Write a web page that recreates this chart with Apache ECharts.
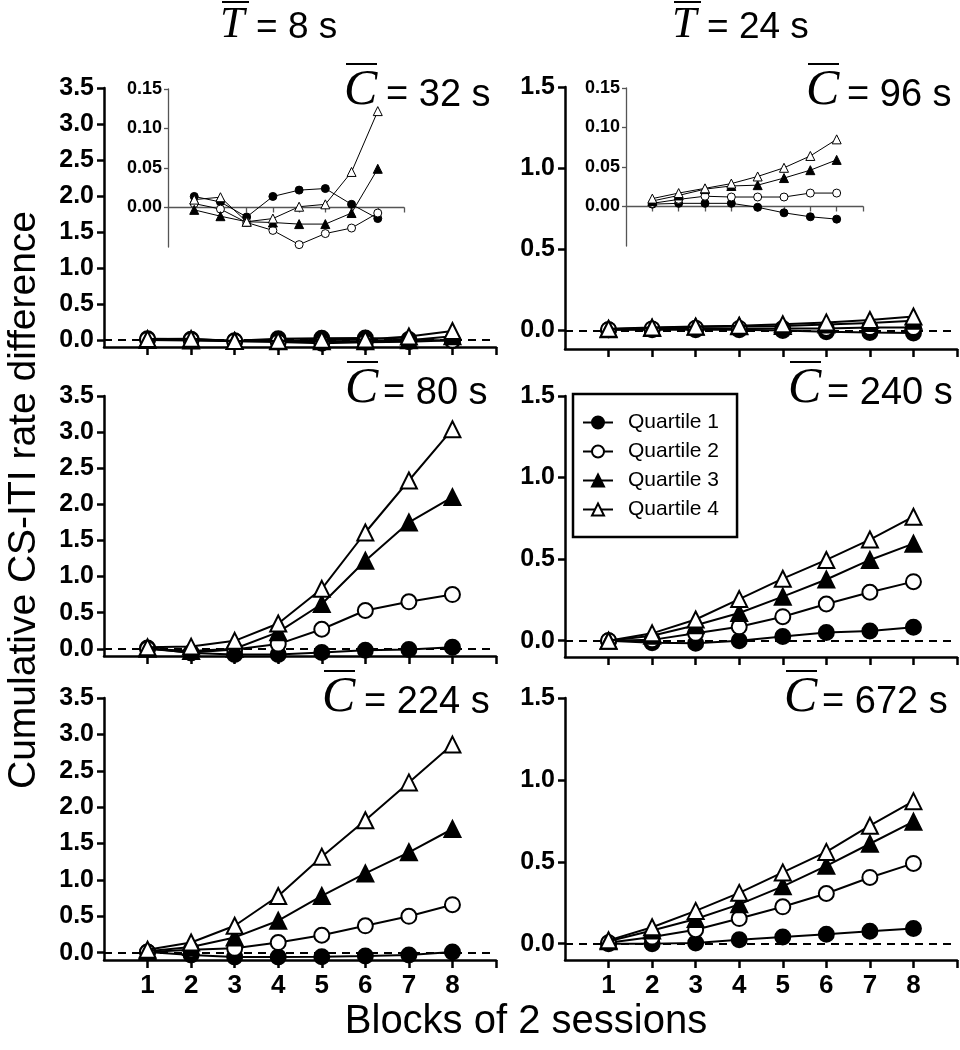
<!DOCTYPE html>
<html><head><meta charset="utf-8">
<script src="https://cdn.jsdelivr.net/npm/echarts@6/dist/echarts.min.js"></script>
<style>html,body{margin:0;padding:0;background:#fff}#c{width:960px;height:1050px}</style>
</head><body><div id="c"></div>
<script>
// ---------- data ----------
const blocks = [1, 2, 3, 4, 5, 6, 7, 8];
const seriesNames = ['Quartile 1', 'Quartile 2', 'Quartile 3', 'Quartile 4'];

// T = 8 s, C = 32 s
const c32_q1 = [0.014, 0.007, -0.012, 0.014, 0.022, 0.024, 0.004, -0.014];
const c32_q2 = [0.005, -0.002, -0.019, -0.029, -0.047, -0.033, -0.026, -0.007];
const c32_q3 = [-0.003, -0.011, -0.018, -0.019, -0.021, -0.021, -0.007, 0.049];
const c32_q4 = [0.010, 0.013, -0.018, -0.014, 0.001, 0.004, 0.045, 0.122];
// T = 24 s, C = 96 s
const c96_q1 = [0.003, 0.004, 0.004, 0.004, -0.001, -0.008, -0.013, -0.016];
const c96_q2 = [0.004, 0.009, 0.013, 0.012, 0.012, 0.012, 0.017, 0.017];
const c96_q3 = [0.007, 0.014, 0.022, 0.026, 0.027, 0.036, 0.046, 0.059];
const c96_q4 = [0.010, 0.017, 0.023, 0.029, 0.038, 0.049, 0.064, 0.085];
// C = 80 s
const c80_q1 = [0.01, -0.06, -0.08, -0.08, -0.05, -0.02, -0.01, 0.02];
const c80_q2 = [0.0, -0.05, -0.01, 0.065, 0.27, 0.53, 0.65, 0.75];
const c80_q3 = [0.0, -0.03, 0.0, 0.23, 0.62, 1.22, 1.75, 2.10];
const c80_q4 = [0.02, 0.03, 0.11, 0.35, 0.83, 1.61, 2.33, 3.04];
// C = 240 s
const c240_q1 = [0.0, -0.012, -0.016, 0.0, 0.025, 0.05, 0.06, 0.082];
const c240_q2 = [0.0, 0.005, 0.045, 0.085, 0.147, 0.225, 0.297, 0.362];
const c240_q3 = [0.0, 0.03, 0.095, 0.17, 0.27, 0.375, 0.495, 0.595];
const c240_q4 = [0.0, 0.045, 0.13, 0.255, 0.38, 0.495, 0.62, 0.76];
// C = 224 s
const c224_q1 = [0.01, -0.03, -0.06, -0.06, -0.055, -0.045, -0.03, 0.01];
const c224_q2 = [0.01, 0.04, 0.06, 0.14, 0.24, 0.37, 0.50, 0.66];
const c224_q3 = [0.02, 0.08, 0.21, 0.44, 0.78, 1.09, 1.38, 1.70];
const c224_q4 = [0.04, 0.14, 0.37, 0.78, 1.32, 1.82, 2.34, 2.86];
// C = 672 s
const c672_q1 = [0.0, 0.0, 0.004, 0.024, 0.04, 0.057, 0.075, 0.092];
const c672_q2 = [0.005, 0.04, 0.085, 0.153, 0.225, 0.306, 0.404, 0.49];
const c672_q3 = [0.015, 0.08, 0.15, 0.24, 0.35, 0.475, 0.61, 0.745];
const c672_q4 = [0.02, 0.10, 0.20, 0.31, 0.435, 0.56, 0.72, 0.87];

const leftTicks = [0, 0.5, 1, 1.5, 2, 2.5, 3, 3.5];
const rightTicks = [0, 0.5, 1, 1.5];
const insetTicks = [0, 0.05, 0.10, 0.15];
const xTickValues = [1, 2, 3, 4, 5, 6, 7, 8, 9];
const xLabelValues = [1, 2, 3, 4, 5, 6, 7, 8];

const titleT = ['8', '24'];
const panelC = ['32', '96', '80', '240', '224', '672'];
const yTitle = 'Cumulative CS-ITI rate difference';
const xTitle = 'Blocks of 2 sessions';

// ---------- layout ----------
const SANS = '"Liberation Sans", Arial, Helvetica, sans-serif';
const SERIF = '"Liberation Serif", "Times New Roman", serif';

const panels = [
  {grid: {left: 104, top: 88, width: 392, height: 259}, min: -0.1, max: 3.5, ticks: leftTicks, data: [c32_q1, c32_q2, c32_q3, c32_q4], xlab: false},
  {grid: {left: 565, top: 87, width: 392, height: 262}, min: -0.115, max: 1.5, ticks: rightTicks, data: [c96_q1, c96_q2, c96_q3, c96_q4], xlab: false},
  {grid: {left: 104, top: 396, width: 392, height: 260}, min: -0.1, max: 3.5, ticks: leftTicks, data: [c80_q1, c80_q2, c80_q3, c80_q4], xlab: false},
  {grid: {left: 565, top: 396, width: 392, height: 261}, min: -0.1, max: 1.5, ticks: rightTicks, data: [c240_q1, c240_q2, c240_q3, c240_q4], xlab: false},
  {grid: {left: 104, top: 698, width: 392, height: 262}, min: -0.1, max: 3.5, ticks: leftTicks, data: [c224_q1, c224_q2, c224_q3, c224_q4], xlab: true},
  {grid: {left: 565, top: 698, width: 392, height: 262}, min: -0.1, max: 1.5, ticks: rightTicks, data: [c672_q1, c672_q2, c672_q3, c672_q4], xlab: true}
];
const insets = [
  {grid: {left: 168, top: 89, width: 236, height: 158}, data: [c32_q1, c32_q2, c32_q3, c32_q4]},
  {grid: {left: 626, top: 88, width: 237, height: 158}, data: [c96_q1, c96_q2, c96_q3, c96_q4]}
];

const markerStyles = [
  {symbol: 'circle', fill: '#000'},
  {symbol: 'circle', fill: '#fff'},
  {symbol: 'triangle', fill: '#000'},
  {symbol: 'triangle', fill: '#fff'}
];

const grids = [], xAxes = [], yAxes = [], series = [];

panels.forEach((p, gi) => {
  grids.push(p.grid);
  xAxes.push({
    type: 'value', gridIndex: gi, min: 0, max: 9,
    axisLine: {onZero: false, lineStyle: {color: '#000', width: 2.5}},
    axisTick: {show: true, customValues: xTickValues, length: 8, lineStyle: {color: '#000', width: 2.5}},
    axisLabel: {show: p.xlab, customValues: xLabelValues, margin: 13, color: '#000',
      fontFamily: SANS, fontWeight: 'bold', fontSize: 26},
    splitLine: {show: false}
  });
  yAxes.push({
    type: 'value', gridIndex: gi, min: p.min, max: p.max,
    axisLine: {show: true, onZero: false, lineStyle: {color: '#000', width: 2.5}},
    axisTick: {show: true, customValues: p.ticks, length: 7, lineStyle: {color: '#000', width: 2.5}},
    axisLabel: {customValues: p.ticks, margin: 10, color: '#000', fontFamily: SANS, fontWeight: 'bold', fontSize: 25,
      formatter: v => v.toFixed(1)},
    splitLine: {show: false}
  });
  p.data.forEach((vals, si) => {
    const ms = markerStyles[si];
    const s = {
      type: 'line', name: seriesNames[si], xAxisIndex: gi, yAxisIndex: gi,
      data: blocks.map((b, i) => [b, vals[i]]),
      symbol: ms.symbol, symbolSize: ms.symbol === 'triangle' ? 16 : 15,
      showAllSymbol: true,
      lineStyle: {color: '#000', width: 2},
      itemStyle: {color: ms.fill, borderColor: '#000', borderWidth: 2},
      emphasis: {disabled: true}, z: 3 + si, animation: false
    };
    if (si === 0) {
      s.markLine = {
        silent: true, symbol: ['none', 'none'], label: {show: false},
        lineStyle: {color: '#000', type: [8, 6], width: 2},
        data: [{yAxis: 0}], animation: false, z: 2
      };
    }
    series.push(s);
  });
});

insets.forEach((p, k) => {
  const gi = panels.length + k;
  grids.push(p.grid);
  xAxes.push({
    type: 'value', gridIndex: gi, min: 0, max: 9,
    axisLine: {onZero: true, lineStyle: {color: '#555', width: 1.3}},
    axisTick: {show: true, customValues: xTickValues, length: 5, lineStyle: {color: '#555', width: 1.3}},
    axisLabel: {show: false},
    splitLine: {show: false}
  });
  yAxes.push({
    type: 'value', gridIndex: gi, min: -0.05, max: 0.15,
    axisLine: {show: true, onZero: false, lineStyle: {color: '#555', width: 1.3}},
    axisTick: {show: true, customValues: insetTicks, length: 4, lineStyle: {color: '#555', width: 1.3}},
    axisLabel: {customValues: insetTicks, margin: 6, color: '#000', fontFamily: SANS, fontWeight: 'bold', fontSize: 18,
      formatter: v => v.toFixed(2)},
    splitLine: {show: false}
  });
  p.data.forEach((vals, si) => {
    const ms = markerStyles[si];
    series.push({
      type: 'line', name: seriesNames[si], xAxisIndex: gi, yAxisIndex: gi,
      data: blocks.map((b, i) => [b, vals[i]]),
      symbol: ms.symbol, symbolSize: ms.symbol === 'triangle' ? 9 : 8,
      showAllSymbol: true,
      lineStyle: {color: '#000', width: 1},
      itemStyle: {color: ms.fill, borderColor: '#000', borderWidth: 1},
      emphasis: {disabled: true}, z: 10 + si, animation: false
    });
  });
});

// ---------- text graphics ----------
const graphic = [];
function overlineLabel(letter, value, cx, eqx, base, letterSize, textSize, olWidth, olY) {
  graphic.push({type: 'text', x: cx, y: base - 0.34 * letterSize,
    style: {text: letter, font: 'italic ' + letterSize + 'px ' + SERIF, fill: '#000', align: 'left', verticalAlign: 'middle'}});
  graphic.push({type: 'line', shape: {x1: cx + 2, y1: olY, x2: cx + 2 + olWidth, y2: olY},
    style: {stroke: '#000', lineWidth: 2}});
  graphic.push({type: 'text', x: eqx, y: base - 0.34 * textSize,
    style: {text: '= ' + value + ' s', font: textSize + 'px ' + SANS, fill: '#000', align: 'left', verticalAlign: 'middle'}});
}
// column titles
overlineLabel('T', titleT[0], 220, 256, 40, 44, 37, 27, 2);
overlineLabel('T', titleT[1], 672, 707, 40, 44, 37, 27, 2);
// panel labels
const cPos = [[344, 386, 108], [806, 847, 108], [345, 383, 406], [788, 827, 406], [322, 364, 715], [784, 822, 715]];
panelC.forEach((v, i) => overlineLabel('C', v, cPos[i][0], cPos[i][1], cPos[i][2], 50, 38, 31, cPos[i][2] - 44));

graphic.push({type: 'text', x: 24, y: 500, rotation: Math.PI / 2,
  style: {text: yTitle, font: '39px ' + SANS, fill: '#000', align: 'center', verticalAlign: 'middle'}});
graphic.push({type: 'text', x: 526, y: 1022,
  style: {text: xTitle, font: '40px ' + SANS, fill: '#000', align: 'center', verticalAlign: 'middle'}});

const chart = echarts.init(document.getElementById('c'), null, {renderer: 'canvas'});
chart.setOption({
  animation: false,
  backgroundColor: '#fff',
  grid: grids, xAxis: xAxes, yAxis: yAxes, series: series,
  legend: {
    data: seriesNames, orient: 'vertical', left: 573, top: 394,
    selectedMode: false, backgroundColor: '#fff',
    borderColor: '#000', borderWidth: 2.5, padding: [18, 18, 17, 9],
    itemGap: 8, itemWidth: 30, itemHeight: 15,
    textStyle: {color: '#000', fontFamily: SANS, fontSize: 21, lineHeight: 21, padding: [0, 0, 0, 10]}
  },
  graphic: graphic
});
</script></body></html>
